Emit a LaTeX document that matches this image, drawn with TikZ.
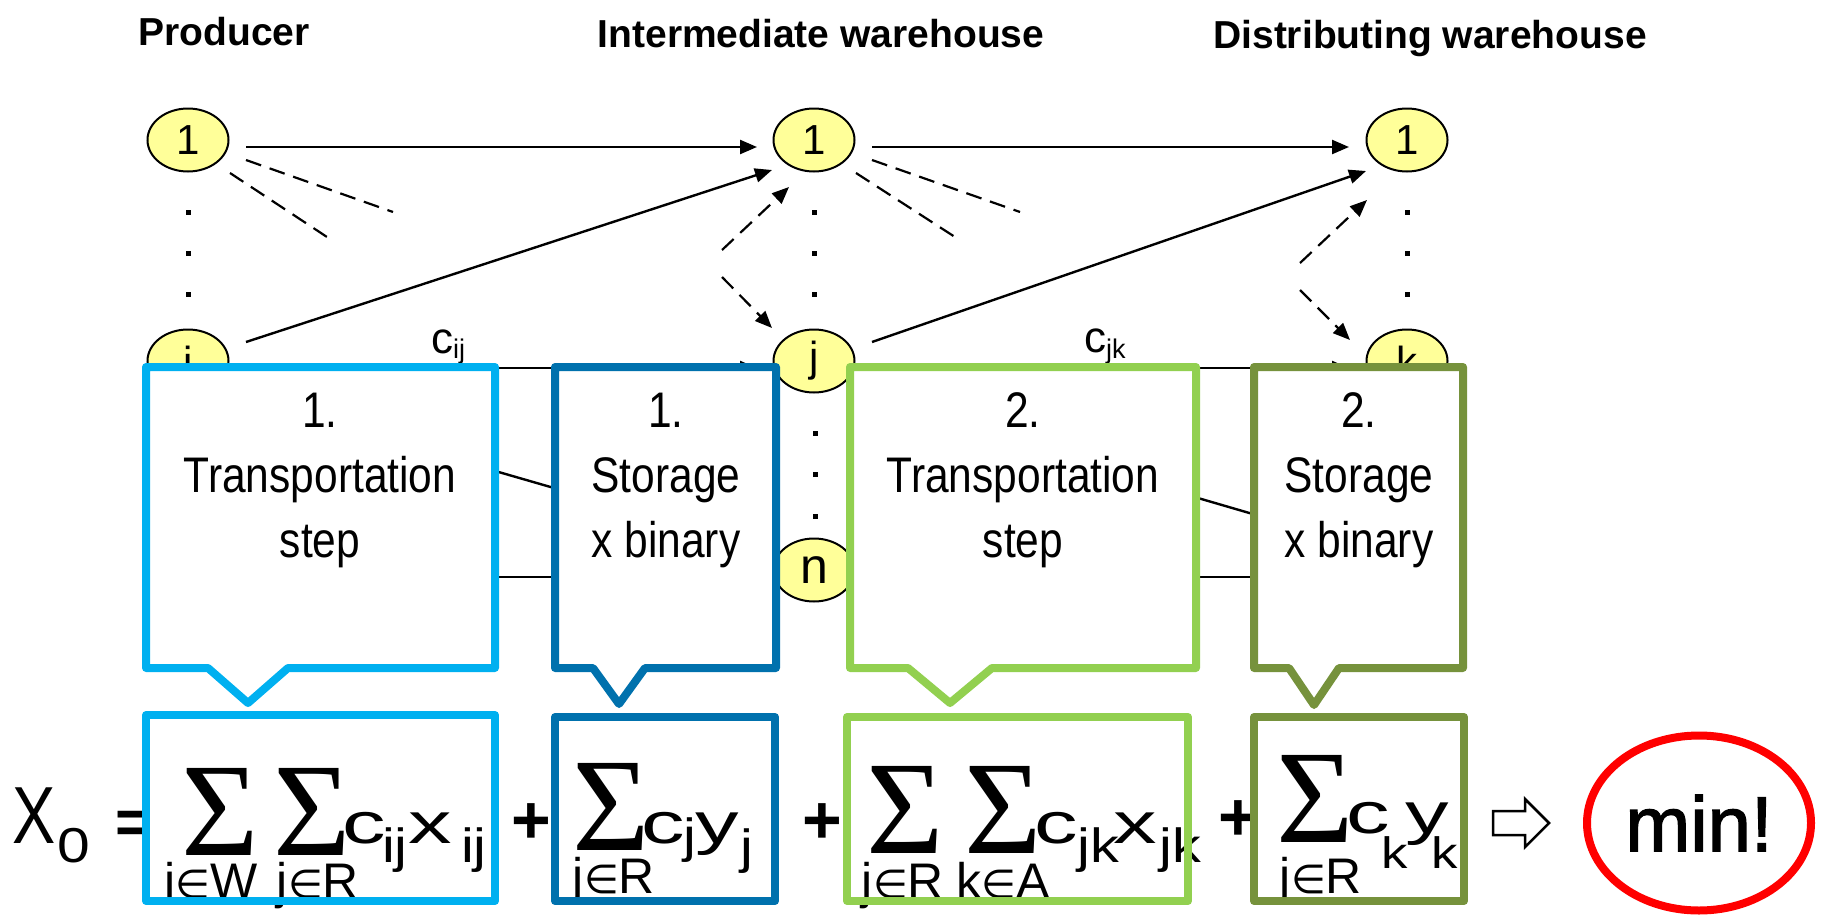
\documentclass[tikz,border=0pt]{standalone}
\usepackage{fontspec}
\usetikzlibrary{arrows.meta,shapes.geometric,calc}
\setmainfont{Liberation Sans}
\newfontfamily\hdfont{Liberation Sans}
\newfontfamily\nrwfont[FakeStretch=0.85]{Liberation Sans}
\newfontfamily\widefont[FakeStretch=1.5]{Liberation Sans}
\newfontfamily\subsfont[FakeStretch=1.2]{Liberation Sans}
\newfontfamily\cndfont[FakeStretch=0.8]{Liberation Sans}
\newfontfamily\goalfont[FakeBold=1.6]{Liberation Sans}
\newfontfamily\serffont{Liberation Serif}
\newfontfamily\dvfont{DejaVu Sans}
\newcommand\fsz[1]{\fontsize{#1}{#1}\selectfont}
\newcommand\elm{{\dvfont\fsz{40}∈}}
\definecolor{sitefill}{HTML}{FFFF99}
\definecolor{cA}{HTML}{00B0F0}
\definecolor{cB}{HTML}{0071AD}
\definecolor{cC}{HTML}{92D050}
\definecolor{cD}{HTML}{76923C}
\definecolor{goalred}{HTML}{FF0000}
\begin{document}
\begin{tikzpicture}[x=1pt,y=-1pt,
  site/.style={ellipse, draw=black, line width=2pt, fill=sitefill,
    minimum width=81pt, minimum height=63pt, inner sep=0pt, font=\hdfont\fsz{42}},
  arr/.style={line width=2.4pt, -{Triangle[length=17pt,width=14pt]}},
  dsh/.style={line width=2.2pt, dash pattern=on 16pt off 9pt},
  darr/.style={dsh, -{Triangle[length=17pt,width=14pt]}},
  title/.style={anchor=base, inner sep=0pt, font=\hdfont\bfseries\fsz{39}},
  cbox/.style={line width=8pt, fill=white, line join=round},
  fbox/.style={line width=8pt, line join=round},
  steptext/.style={anchor=base, inner sep=0pt, font=\nrwfont\fontsize{50}{65}\selectfont},
  fp/.style={anchor=base west, inner sep=0pt},
  sig/.style={anchor=base, inner sep=0pt, font=\serffont\fsz{133}},
  under/.style={anchor=base, inner sep=0pt, font=\hdfont\fsz{50}},
  main/.style={fp, font=\widefont\fsz{58}},
  sub/.style={fp, font=\subsfont\fsz{48}},
  plus/.style={anchor=base, inner sep=0pt, font=\hdfont\bfseries\fsz{68}},
  dotmark/.style={fill=black}
]
\useasboundingbox (0,0) rectangle (1825,918);

% column titles
\node[title] (tp) at (224,45) {Producer};
\node[title] (tm) at (821,47) {Intermediate warehouse};
\node[title] (td) at (1430,48) {Distributing warehouse};

% sites
\node[site] (p1) at (188,140) {1};
\node[site] (pi) at (188,361) {i};
\node[site] (m1) at (814,140) {1};
\node[site] (mj) at (814,361) {j};
\node[site, font=\hdfont\fsz{50}] (mn) at (814,570) {n};
\node[site] (d1) at (1407,140) {1};
\node[site] (dk) at (1407,361) {k};

% sites hidden behind the step boxes
\coordinate (pm) at (188,570);
\coordinate (dm) at (1407,570);

% vertical dots
\foreach \cx in {188,814,1407}
  \foreach \cy in {212,253,294}
    \fill[dotmark] (\cx-2.5,\cy-2.5) rectangle ++(5,5);
\foreach \cy in {433,474,516}
  \fill[dotmark] (812.5,\cy-2.5) rectangle ++(5,5);

% solid transport arcs
\draw[arr] ($(p1)+(58,7)$) -- ($(m1)+(-57,7)$);
\draw[arr] ($(m1)+(58,7)$) -- ($(d1)+(-58,7)$);
\draw[arr] ($(pi)+(58,-19)$) -- ($(m1)+(-42,30)$);
\draw[arr] ($(mj)+(58,-19)$) -- ($(d1)+(-41,31)$);
\draw[arr] ($(pi)+(58,7)$) -- ($(mj)+(-57,7)$);
\draw[arr] ($(mj)+(58,7)$) -- ($(dk)+(-58,7)$);
\draw[arr] ($(pi)+(58,38)$) -- ($(mn)+(-42,-19)$);
\draw[arr] ($(mj)+(58,42)$) -- ($(dm)+(-41,-23)$);
\draw[arr] ($(pm)+(58,7)$) -- ($(mn)+(-57,7)$);
\draw[arr] ($(mn)+(58,7)$) -- ($(dm)+(-58,7)$);

% dashed arcs leaving the first sites
\coordinate (pa) at ($(p1)+(205,72)$);
\coordinate (pb) at ($(p1)+(139,97)$);
\coordinate (ma) at ($(m1)+(206,72)$);
\coordinate (mb) at ($(m1)+(141,97)$);
\draw[dsh] ($(p1)+(58,20)$) -- (pa);
\draw[dsh] ($(p1)+(42,33)$) -- (pb);
\draw[dsh] ($(m1)+(58,20)$) -- (ma);
\draw[dsh] ($(m1)+(42,33)$) -- (mb);

% dashed arcs arriving from other sites
\coordinate (ua) at ($(m1)+(-92,110)$);
\coordinate (ub) at ($(mj)+(-92,-84)$);
\coordinate (va) at ($(d1)+(-107,123)$);
\coordinate (vb) at ($(dk)+(-107,-71)$);
\draw[darr] (ua) -- ($(m1)+(-25,47)$);
\draw[darr] (ub) -- ($(mj)+(-42,-33)$);
\draw[darr] (va) -- ($(d1)+(-40,60)$);
\draw[darr] (vb) -- ($(dk)+(-57,-21)$);

% cost labels
\node[fp, font=\hdfont\fsz{44}] (cij) at (431,353) {c\raisebox{-5pt}{\fsz{27}ij}};
\node[fp, font=\hdfont\fsz{44}] (cjk) at (1084,352) {c\raisebox{-6pt}{\fsz{27}jk}};

% step callouts
\draw[cbox, draw=cA] (146,367) -- (495,367) -- (495,668) -- (288,668) -- (248,703) -- (208,668) -- (146,668) -- cycle;
\draw[cbox, draw=cB] (555,367) -- (776,367) -- (776,668) -- (645,668) -- (619,704) -- (593,668) -- (555,668) -- cycle;
\draw[cbox, draw=cC] (850,367) -- (1196,367) -- (1196,668) -- (992,668) -- (950,703) -- (908,668) -- (850,668) -- cycle;
\draw[cbox, draw=cD] (1254,367) -- (1463,367) -- (1463,668) -- (1339,668) -- (1314,705) -- (1289,668) -- (1254,668) -- cycle;

\node[steptext] (s1) at (320,427) {\begin{tabular}[t]{@{}c@{}}1.\\Transportation\\step\end{tabular}};
\node[steptext] (s2) at (666,427) {\begin{tabular}[t]{@{}c@{}}1.\\Storage\\x binary\end{tabular}};
\node[steptext] (s3) at (1023,427) {\begin{tabular}[t]{@{}c@{}}2.\\Transportation\\step\end{tabular}};
\node[steptext] (s4) at (1359,427) {\begin{tabular}[t]{@{}c@{}}2.\\Storage\\x binary\end{tabular}};

% objective function
\node[fp, font=\cndfont\fsz{81}] (fX) at (12,843) {X};
\node[fp, font=\subsfont\fsz{49}] (fX0) at (57,862) {0};
\node[anchor=base, inner sep=0pt, font=\hdfont\bfseries\fsz{62}] (feq) at (134,843) {=};

\node[sig] (g1) at (220,855) {Σ};
\node[sig] (g2) at (312,855) {Σ};
\node[under] (u1) at (211,898) {i\elm W};
\node[under] (u2) at (318,898) {j\elm R};
\node[main] (c1) at (342,843) {c};
\node[sub] (c1s) at (382,862) {ij};
\node[main] (x1) at (408,843) {x};
\node[sub] (x1s) at (461,862) {ij};

\node[plus] (pl1) at (531,843) {+};

\node[sig] (g3) at (611,850) {Σ};
\node[under] (u3) at (614,893) {j\elm R};
\node[main] (c2) at (641,843) {c};
\node[sub] (c2s) at (683,852) {j};
\node[main] (y2) at (695,843) {y};
\node[sub] (y2s) at (740,863) {j};

\node[plus] (pl2) at (822,843) {+};

\node[sig] (g4) at (905,853) {Σ};
\node[sig] (g5) at (1003,853) {Σ};
\node[under] (u4) at (903,898) {j\elm R};
\node[under] (u5) at (1003,898) {k\elm A};
\node[main] (c3) at (1034,843) {c};
\node[sub] (c3s) at (1077,862) {jk};
\node[main] (x3) at (1113,843) {x};
\node[sub] (x3s) at (1159,862) {jk};

\node[plus] (pl3) at (1238,840) {+};

\node[sig] (g6) at (1315,842) {Σ};
\node[under] (u6) at (1321,893) {j\elm R};
\node[main] (c4) at (1346,833) {c};
\node[sub, font=\subsfont\fsz{44}] (c4s) at (1381,868) {k};
\node[main] (y4) at (1405,833) {y};
\node[sub, font=\subsfont\fsz{44}] (y4s) at (1431,868) {k};

% frames round the terms
\draw[fbox, draw=cA] (146,715) rectangle (495,901);
\draw[fbox, draw=cB] (555,717) rectangle (775,901);
\draw[fbox, draw=cC] (847,717) rectangle (1188,901);
\draw[fbox, draw=cD] (1254,717) rectangle (1464,901);

% hollow arrow and goal
\draw[line width=2.5pt, fill=white, line join=miter]
  (1493,811) -- (1525,811) -- (1525,799) -- (1549,823) -- (1525,847) -- (1525,835) -- (1493,835) -- cycle;
\node[ellipse, draw=goalred, line width=8pt, minimum width=224pt, minimum height=175pt,
  inner sep=0pt, font=\goalfont\fsz{78}] (goal) at (1699,823) {min!};
\end{tikzpicture}
\end{document}
